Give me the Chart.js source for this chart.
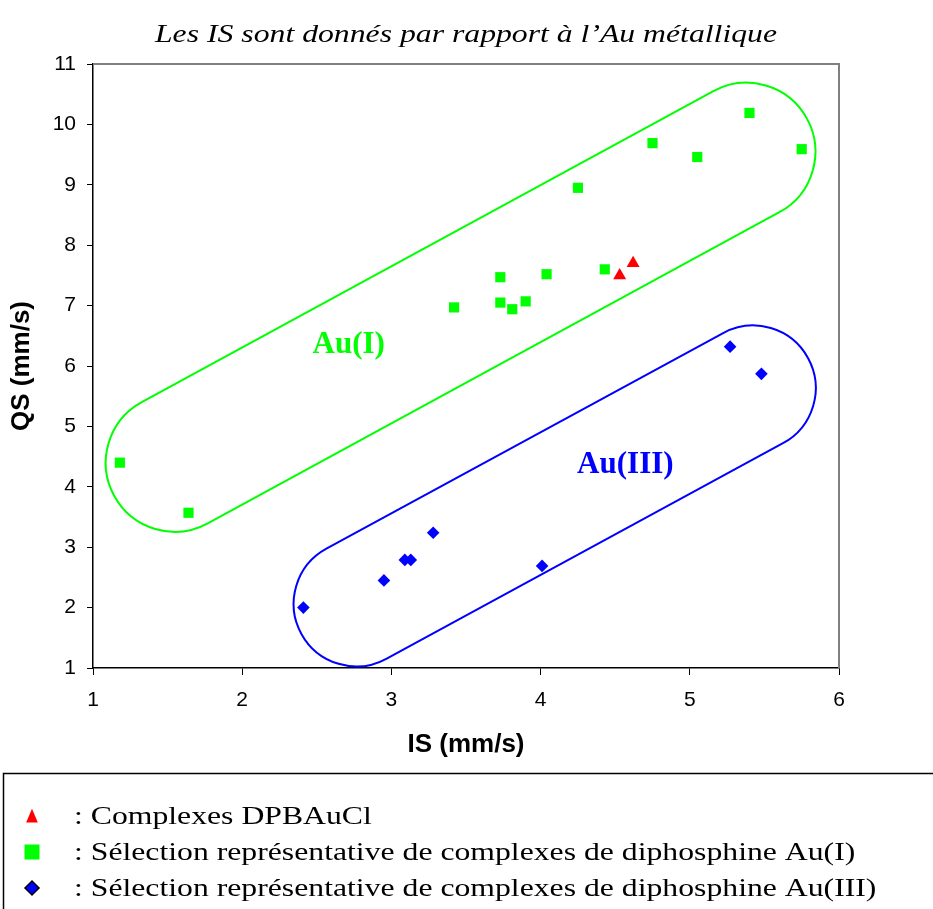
<!DOCTYPE html>
<html>
<head>
<meta charset="utf-8">
<script src="https://cdn.jsdelivr.net/npm/chart.js@4/dist/chart.umd.min.js"></script>
<style>
    html, body { margin: 0; padding: 0; background: #fff; }
    #wrap { width: 933px; height: 909px; position: relative; }
</style>
</head>
<body>
<div id="wrap"><canvas id="mossbauerChart" width="933" height="909"></canvas></div>
<script>
// Données (IS et QS en mm/s)
const dpbIS = [4.53, 4.62];
const dpbQS = [7.50, 7.70];

const auI_IS = [1.18, 1.64, 3.42, 3.73, 3.73, 3.81, 3.90, 4.04, 4.25, 4.43, 4.75, 5.05, 5.40, 5.75];
const auI_QS = [4.40, 3.57, 6.97, 7.47, 7.05, 6.94, 7.07, 7.52, 8.95, 7.60, 9.69, 9.46, 10.19, 9.59];

const auIII_IS = [2.41, 2.95, 3.09, 3.13, 3.28, 4.01, 5.27, 5.48];
const auIII_QS = [2.00, 2.45, 2.79, 2.79, 3.24, 2.69, 6.32, 5.87];

const xTicks = [1, 2, 3, 4, 5, 6];
const yTicks = [1, 2, 3, 4, 5, 6, 7, 8, 9, 10, 11];

const chartTitle = 'Les IS sont donnés par rapport à l’Au métallique';
const seriesLabels = [
    ': Complexes DPBAuCl',
    ': Sélection représentative de complexes de diphosphine Au(I)',
    ': Sélection représentative de complexes de diphosphine Au(III)'
];

// Zones entourées (centres des deux demi-cercles en coordonnées IS/QS, rayon en unités IS)
const groupNames = ['Au(I)', 'Au(III)'];
const groupEnds = [[[1.548, 4.397], [5.379, 9.549]], [[2.765, 2.064], [5.424, 5.633]]];
const groupRadius = [0.4625, 0.42];
const groupLabelAt = [[2.714, 6.35], [4.568, 4.36]];

const GREEN = '#00FF00';
const BLUE = '#0000FF';
const RED = '#FF0000';

function toPoints(xs, ys) {
    return xs.map((x, i) => ({ x: x, y: ys[i] }));
}

// texte serif un peu élargi comme dans la figure d'origine
function wideText(ctx, text, x, y, stretch) {
    ctx.save();
    ctx.translate(x, y);
    ctx.scale(stretch, 1);
    ctx.fillText(text, 0, 0);
    ctx.restore();
}

// Cadre gris, zones Au(I)/Au(III) et leurs étiquettes
const groupsPlugin = {
    id: 'groups',
    beforeDatasetsDraw(chart) {
        const { ctx, chartArea: a, scales: { x, y } } = chart;
        ctx.save();
        ctx.strokeStyle = '#808080';
        ctx.lineWidth = 2;
        ctx.beginPath();
        ctx.moveTo(a.left, a.top);
        ctx.lineTo(a.right, a.top);
        ctx.lineTo(a.right, a.bottom);
        ctx.stroke();

        const colors = [GREEN, BLUE];
        groupEnds.forEach((ends, i) => {
            const p1 = { x: x.getPixelForValue(ends[0][0]), y: y.getPixelForValue(ends[0][1]) };
            const p2 = { x: x.getPixelForValue(ends[1][0]), y: y.getPixelForValue(ends[1][1]) };
            const r = x.getPixelForValue(1 + groupRadius[i]) - x.getPixelForValue(1);
            const ang = Math.atan2(p2.y - p1.y, p2.x - p1.x);
            ctx.beginPath();
            ctx.arc(p2.x, p2.y, r, ang - Math.PI / 2, ang + Math.PI / 2);
            ctx.arc(p1.x, p1.y, r, ang + Math.PI / 2, ang + 3 * Math.PI / 2);
            ctx.closePath();
            ctx.strokeStyle = colors[i];
            ctx.lineWidth = 2;
            ctx.stroke();

            ctx.fillStyle = colors[i];
            ctx.font = 'bold 31px "Liberation Serif", "Times New Roman", serif';
            ctx.textAlign = 'center';
            ctx.textBaseline = 'middle';
            ctx.fillText(groupNames[i], x.getPixelForValue(groupLabelAt[i][0]), y.getPixelForValue(groupLabelAt[i][1]));
        });
        ctx.restore();
    }
};

function drawMarker(ctx, style, cx, cy, size, fill, stroke) {
    ctx.beginPath();
    if (style === 'triangle') {
        ctx.moveTo(cx, cy - size * 0.55);
        ctx.lineTo(cx + size * 0.45, cy + size * 0.5);
        ctx.lineTo(cx - size * 0.45, cy + size * 0.5);
    } else if (style === 'rect') {
        ctx.rect(cx - size / 2, cy - size / 2, size, size);
    } else {
        ctx.moveTo(cx, cy - size / 2);
        ctx.lineTo(cx + size / 2, cy);
        ctx.lineTo(cx, cy + size / 2);
        ctx.lineTo(cx - size / 2, cy);
    }
    ctx.closePath();
    ctx.fillStyle = fill;
    ctx.fill();
    if (stroke) {
        ctx.strokeStyle = stroke;
        ctx.lineWidth = 1.5;
        ctx.stroke();
    }
}

// Titre + légende encadrée en bas de la figure
const legendBoxPlugin = {
    id: 'legendBox',
    afterDraw(chart) {
        const ctx = chart.ctx;
        ctx.save();
        ctx.fillStyle = '#000';
        ctx.font = 'italic 26px "Liberation Serif", "Times New Roman", serif';
        ctx.textAlign = 'center';
        ctx.textBaseline = 'alphabetic';
        wideText(ctx, chartTitle, 466, 42, 1.22);

        ctx.strokeStyle = '#000';
        ctx.lineWidth = 1.5;
        ctx.strokeRect(3.5, 773.5, 960, 200);

        const rows = [824, 860, 896];
        const sizes = [13, 15, 14];
        chart.data.datasets.forEach((ds, i) => {
            const mid = rows[i] - 8;
            drawMarker(ctx, ds.pointStyle, 32, mid, sizes[i], ds.backgroundColor, i === 2 ? '#000' : null);
            ctx.fillStyle = '#000';
            ctx.font = '26px "Liberation Serif", "Times New Roman", serif';
            ctx.textAlign = 'left';
            ctx.textBaseline = 'alphabetic';
            wideText(ctx, seriesLabels[i], 74, rows[i], 1.22);
        });
        ctx.restore();
    }
};

const tickFont = { family: '"Liberation Sans", Arial, sans-serif', size: 21 };
const axisTitleFont = { family: '"Liberation Sans", Arial, sans-serif', size: 26, weight: 'bold' };

new Chart(document.getElementById('mossbauerChart'), {
    type: 'scatter',
    data: {
        datasets: [
            {
                label: seriesLabels[0],
                data: toPoints(dpbIS, dpbQS),
                pointStyle: 'triangle',
                pointRadius: 7.5,
                backgroundColor: RED,
                borderColor: RED,
                borderWidth: 0
            },
            {
                label: seriesLabels[1],
                data: toPoints(auI_IS, auI_QS),
                pointStyle: 'rect',
                pointRadius: 7.2,
                backgroundColor: GREEN,
                borderColor: GREEN,
                borderWidth: 0
            },
            {
                label: seriesLabels[2],
                data: toPoints(auIII_IS, auIII_QS),
                pointStyle: 'rectRot',
                pointRadius: 6.3,
                backgroundColor: BLUE,
                borderColor: BLUE,
                borderWidth: 0
            }
        ]
    },
    options: {
        responsive: false,
        animation: false,
        devicePixelRatio: 1,
        layout: { padding: { top: 64, left: 0, right: 94, bottom: 149 } },
        plugins: {
            legend: { display: false },
            tooltip: { enabled: false },
            title: { display: false }
        },
        scales: {
            x: {
                type: 'linear',
                min: xTicks[0],
                max: xTicks[xTicks.length - 1],
                afterFit: (scale) => { scale.height = 92; },
                afterBuildTicks: (scale) => { scale.ticks = xTicks.map(v => ({ value: v })); },
                border: { color: '#000', width: 1.5 },
                grid: { drawOnChartArea: false, color: '#000', tickColor: '#000', tickLength: 7 },
                ticks: { color: '#000', font: tickFont, padding: 13, maxRotation: 0 },
                title: { display: true, text: 'IS (mm/s)', color: '#000', font: axisTitleFont, padding: { top: 0, bottom: 0 } }
            },
            y: {
                type: 'linear',
                min: yTicks[0],
                max: yTicks[yTicks.length - 1],
                afterFit: (scale) => { scale.width = 93; },
                afterBuildTicks: (scale) => { scale.ticks = yTicks.map(v => ({ value: v })); },
                border: { color: '#000', width: 1.5 },
                grid: { drawOnChartArea: false, color: '#000', tickColor: '#000', tickLength: 6 },
                ticks: { color: '#000', font: tickFont, padding: 11 },
                title: { display: true, text: 'QS (mm/s)', color: '#000', font: axisTitleFont, padding: { top: 6, bottom: 0 } }
            }
        }
    },
    plugins: [groupsPlugin, legendBoxPlugin]
});
</script>
</body>
</html>
